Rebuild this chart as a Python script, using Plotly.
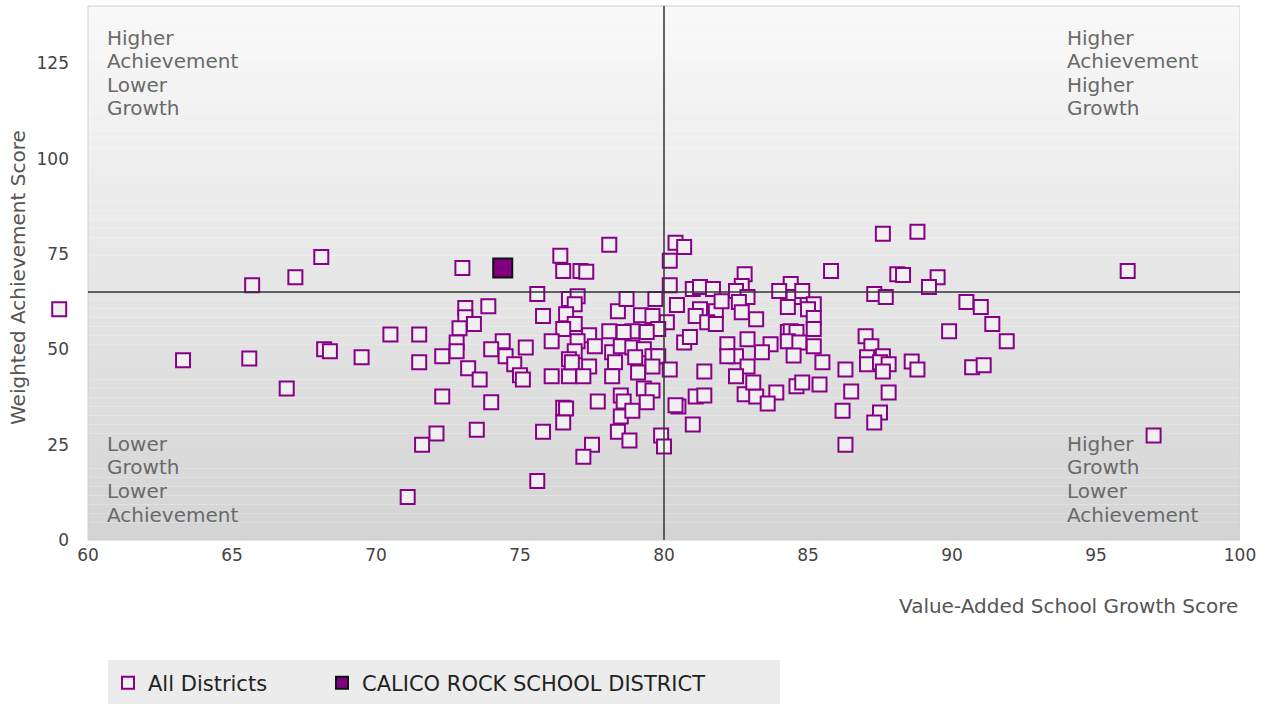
import plotly.graph_objects as go

# All districts: value-added growth score (x) and weighted achievement score (y)
growth = [
    59.0, 63.3, 65.6, 65.7, 67.2, 66.9, 68.1, 68.2, 68.4, 69.5,
    70.5, 71.5, 71.5, 72.3, 72.3, 72.1, 71.6, 71.1, 73.0, 73.1,
    73.9, 73.1, 73.4, 72.9, 72.8, 72.8, 73.2, 73.6, 73.5,
    76.4, 78.1, 76.5, 77.1, 77.3, 75.6, 76.7, 77.0, 76.9, 75.8,
    76.6, 76.9, 76.5, 77.4, 78.1, 78.4, 76.1, 77.0, 77.6, 74.4,
    74.0, 74.5, 75.2, 74.8, 75.0, 75.1, 76.1, 76.7, 76.9, 76.7,
    76.8, 77.4, 77.2, 78.2, 78.5, 78.3, 78.2, 74.0, 77.7, 76.5,
    76.6, 78.5, 78.5, 78.4, 76.5, 75.8, 77.5, 77.2, 75.6,
    80.4, 80.7, 80.2, 80.2, 82.8, 82.7, 81.0, 81.25, 81.7, 82.5,
    82.9, 78.7, 79.7, 80.45, 81.25, 81.1, 81.8, 82.0, 82.6, 82.7,
    83.2, 81.5, 81.8, 79.2, 79.6, 80.1, 79.8, 79.4, 78.9, 78.6,
    80.7, 80.9, 82.2, 82.9, 78.9, 79.3, 82.5, 82.2, 82.9, 79.6,
    79.8, 79.0, 79.6, 79.1, 80.2, 81.4, 82.5, 79.3, 79.6, 79.4,
    78.6, 78.9, 80.5, 80.4, 81.1, 81.4, 82.8, 83.2, 83.1, 81.0,
    78.8, 79.9, 80.0,
    87.6, 85.8, 88.1, 84.4, 84.0, 84.5, 84.8, 87.3, 87.7, 84.3,
    85.2, 85.0, 85.2, 85.2, 83.7, 83.4, 84.3, 84.4, 84.6, 84.3,
    84.7, 85.2, 84.5, 85.5, 86.3, 87.0, 87.2, 87.05, 87.05, 87.6,
    87.5, 87.8, 87.6, 83.9, 83.6, 84.6, 84.8, 85.4, 86.5, 86.2,
    87.8, 87.5, 87.3, 86.3,
    88.8, 96.1, 88.3, 89.5, 89.2, 90.5, 91.0, 91.4, 89.9, 91.9,
    88.6, 88.8, 90.7, 91.1, 97.0,
]
achievement = [
    60.5, 47.1, 47.6, 66.8, 68.9, 39.7, 74.2, 50.0, 49.5, 47.9,
    53.9, 53.9, 46.6, 48.2, 37.6, 27.9, 25.0, 11.3, 71.3, 60.8,
    61.3, 58.4, 56.6, 55.5, 51.8, 49.5, 45.0, 42.1, 28.9,
    74.5, 77.4, 70.5, 70.5, 70.3, 64.5, 63.2, 63.9, 61.8, 58.7,
    59.2, 56.6, 55.3, 53.7, 54.7, 60.0, 52.1, 52.1, 50.8, 52.1,
    50.0, 48.2, 50.5, 46.1, 43.2, 42.1, 42.9, 42.9, 49.5, 47.4,
    46.6, 45.5, 42.9, 49.2, 50.8, 46.6, 42.9, 36.1, 36.3, 34.7,
    34.5, 37.9, 32.4, 28.4, 30.8, 28.4, 25.0, 21.8, 15.5,
    77.9, 76.8, 73.2, 66.8, 69.7, 66.6, 65.8, 66.3, 65.8, 65.3,
    63.7, 63.2, 63.2, 61.6, 60.5, 58.7, 60.0, 62.6, 62.4, 59.7,
    57.9, 57.1, 56.6, 58.9, 58.7, 57.1, 55.3, 54.5, 54.7, 54.5,
    51.8, 53.2, 51.3, 52.6, 50.5, 50.0, 48.2, 48.2, 45.5, 48.2,
    48.2, 47.9, 45.5, 43.9, 44.7, 44.2, 42.9, 39.7, 39.2, 36.1,
    36.3, 33.9, 35.0, 35.3, 37.6, 37.9, 38.2, 37.6, 41.3, 30.3,
    26.1, 27.4, 24.5,
    80.3, 70.5, 69.7, 67.1, 65.3, 63.7, 65.3, 64.5, 63.7, 61.1,
    61.8, 60.5, 58.2, 55.3, 51.3, 49.2, 54.5, 54.7, 54.5, 52.1,
    51.8, 50.8, 48.4, 46.6, 44.7, 53.4, 50.8, 47.9, 46.1, 48.2,
    46.6, 46.1, 44.2, 38.7, 35.8, 40.3, 41.3, 40.8, 38.9, 33.9,
    38.7, 33.4, 30.8, 25.0,
    80.8, 70.5, 69.5, 68.9, 66.3, 62.4, 61.1, 56.6, 54.7, 52.1,
    46.8, 44.7, 45.3, 45.8, 27.4,
]

# Highlighted district
district_name = ["CALICO ROCK SCHOOL DISTRICT"]
district_growth = [74.4]
district_achievement = [71.3]

# Quadrant reference values and axis ticks
growth_ref = 80
achievement_ref = 65
x_ticks = [60, 65, 70, 75, 80, 85, 90, 95, 100]
y_ticks = [0, 25, 50, 75, 100, 125]
y_max = 140

# Quadrant labels (line by line)
quad_tl = ["Higher", "Achievement", "Lower", "Growth"]
quad_tr = ["Higher", "Achievement", "Higher", "Growth"]
quad_bl = ["Lower", "Growth", "Lower", "Achievement"]
quad_br = ["Higher", "Growth", "Lower", "Achievement"]

FONT = "DejaVu Sans"
PURPLE = "#880088"

# pixel geometry of the plot area (figure is 1270 x 704)
L, R, T, B = 40, 1240, 6, 540
def px_x(p):
    return (p - L) / (R - L)
def px_y(p):
    return (B - p) / (B - T)

fig = go.Figure()
fig.add_trace(go.Scatter(
    x=growth, y=achievement, mode="markers", name="All Districts",
    marker=dict(symbol="square", size=14, color="#f0f0f0",
                line=dict(color=PURPLE, width=2)),
    cliponaxis=False, hoverinfo="skip", legend="legend",
))
fig.add_trace(go.Scatter(
    x=district_growth, y=district_achievement, mode="markers",
    name=district_name[0],
    marker=dict(symbol="square", size=19, color="#800080",
                line=dict(color="#111111", width=2)),
    hoverinfo="skip", legend="legend2",
))

# gradient plot background (bands) over the 60..100 x-range
shapes = []
n = 60
top_c, bot_c = 249, 212
for i in range(n):
    c = round(top_c + (bot_c - top_c) * (i + 0.5) / n)
    shapes.append(dict(type="rect", xref="x", yref="paper",
                       x0=x_ticks[0], x1=x_ticks[-1], y0=1 - (i + 1) / n, y1=1 - i / n,
                       fillcolor=f"rgb({c},{c},{c})", line=dict(width=0),
                       layer="below"))
shapes.append(dict(type="rect", xref="x", yref="paper", x0=x_ticks[0], x1=x_ticks[-1],
                   y0=0, y1=1, line=dict(color="#d0d0d0", width=1), layer="above"))
shapes.append(dict(type="line", xref="x", yref="paper", x0=growth_ref, x1=growth_ref,
                   y0=0, y1=1, line=dict(color="#333333", width=1.5), layer="above"))
shapes.append(dict(type="line", xref="x", yref="y", x0=x_ticks[0], x1=x_ticks[-1],
                   y0=achievement_ref, y1=achievement_ref,
                   line=dict(color="#333333", width=1.5), layer="above"))
# legend background box
shapes.append(dict(type="rect", xref="paper", yref="paper",
                   x0=px_x(108), x1=px_x(780), y0=px_y(704), y1=px_y(660),
                   fillcolor="#ececec", line=dict(width=0), layer="below"))

qfont = dict(family=FONT, size=20, color="#6a6a6a")
annotations = []
top_rows = [38, 61, 85, 108]
bot_rows = [444, 467, 491, 515]
for lines, xp, rows in [(quad_tl, 105, top_rows), (quad_tr, 1065, top_rows),
                        (quad_bl, 105, bot_rows), (quad_br, 1065, bot_rows)]:
    for txt, ry in zip(lines, rows):
        annotations.append(dict(text=txt, xref="paper", yref="paper",
                                x=px_x(xp), y=px_y(ry), xanchor="left", yanchor="middle",
                                showarrow=False, font=qfont))
annotations.append(dict(text="Value-Added School Growth Score", xref="paper", yref="paper",
                        x=px_x(1240), y=px_y(606), xanchor="right", yanchor="middle",
                        showarrow=False, font=dict(family=FONT, size=20, color="#555555")))
annotations.append(dict(text="Weighted Achievement Score", xref="paper", yref="paper",
                        x=px_x(18), y=px_y(278), xanchor="center", yanchor="middle",
                        textangle=-90, showarrow=False,
                        font=dict(family=FONT, size=20, color="#555555")))

legend_common = dict(orientation="h", yanchor="middle", xanchor="left",
                     bgcolor="rgba(0,0,0,0)",
                     font=dict(family=FONT, size=21, color="#222222"),
                     itemsizing="constant")

fig.update_layout(
    width=1270, height=704,
    margin=dict(l=L, r=1270 - R, t=T, b=704 - B, autoexpand=False),
    paper_bgcolor="white", plot_bgcolor="rgba(0,0,0,0)",
    font=dict(family=FONT, size=17, color="#444444"),
    shapes=shapes, annotations=annotations,
    showlegend=True,
    legend=dict(x=px_x(108), y=px_y(683), **legend_common),
    legend2=dict(x=px_x(322), y=px_y(683), **legend_common),
    xaxis=dict(range=[x_ticks[0] - (88 - L) / ((R - 88) / (x_ticks[-1] - x_ticks[0])), x_ticks[-1]],
               tickvals=x_ticks, showgrid=False, zeroline=False,
               showline=False, ticks="", ticklabelstandoff=3,
               tickfont=dict(size=17, color="#444444")),
    yaxis=dict(range=[0, y_max], tickvals=y_ticks, showgrid=False, zeroline=False,
               showline=False, ticks="", ticklabelstandoff=19,
               anchor="free", position=px_x(88),
               tickfont=dict(size=17, color="#444444")),
)

fig.write_html("out.html", config={"displayModeBar": False},
               post_script="document.body.style.margin='0';")
